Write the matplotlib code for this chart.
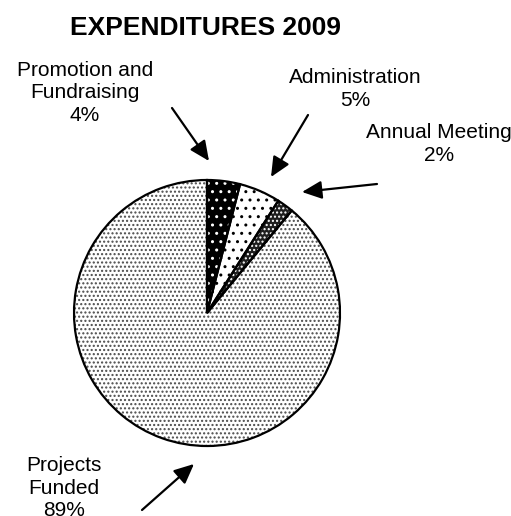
import matplotlib
matplotlib.use('Agg')
import matplotlib.pyplot as plt

# expenditure shares, in the order they go round the pie (clockwise from 12 o'clock)
categories = ['Promotion and\nFundraising', 'Administration', 'Annual Meeting', 'Projects\nFunded']
shares = [4, 5, 2, 89]
pct_labels = ['4%', '5%', '2%', '89%']

plt.rcParams['font.family'] = ['Liberation Sans', 'DejaVu Sans']
plt.rcParams['hatch.linewidth'] = 1.0

W, H = 511, 516
fig = plt.figure(figsize=(W / 100, H / 100), dpi=100)
ax = fig.add_axes([0, 0, 1, 1])
ax.axis('off')

center = (207, H - 313)
radius = 133

faces = ['black', 'white', '#1e1e1e', 'white']
hatch_cols = ['white', 'black', 'white', '#4a4a4a']
hatches = ['..', '..', '....', '....']

# fill + hatch pass (edge colour doubles as hatch colour)
wedges, _ = ax.pie(shares, startangle=90, counterclock=False, center=center,
                   radius=radius, wedgeprops=dict(linewidth=0))
for w, fc, hc, h in zip(wedges, faces, hatch_cols, hatches):
    w.set_facecolor(fc)
    w.set_edgecolor(hc)
    w.set_hatch(h)
    w.set_linewidth(0)

# outline pass
ax.pie(shares, startangle=90, counterclock=False, center=center, radius=radius,
       wedgeprops=dict(facecolor='none', edgecolor='black', linewidth=1.6))
ax.set_xlim(0, W)
ax.set_ylim(0, H)
ax.set_aspect('equal')

ax.text(205, H - 28, 'EXPENDITURES 2009', ha='center', va='center',
        fontsize=19, fontweight='bold')

# label text centres and arrows (tail -> tip), in pixels from top-left
label_pos = [(85, 93), (355, 89), (439, 144), (64, 488)]
arrows = [((172, 108), (209, 161)), ((308, 115), (271, 177)),
          ((377, 184), (302, 192)), ((142, 510), (194, 464))]

for cat, pct, (lx, ly), (tail, tip) in zip(categories, pct_labels, label_pos, arrows):
    ax.text(lx, H - ly, cat + '\n' + pct, ha='center', va='center',
            fontsize=15, linespacing=1.22)
    ax.annotate('', xy=(tip[0], H - tip[1]), xytext=(tail[0], H - tail[1]),
                arrowprops=dict(arrowstyle='-|>,head_length=1.2,head_width=0.55',
                                color='black', lw=1.6, shrinkA=0, shrinkB=0))

fig.savefig('out.png', dpi=100)
